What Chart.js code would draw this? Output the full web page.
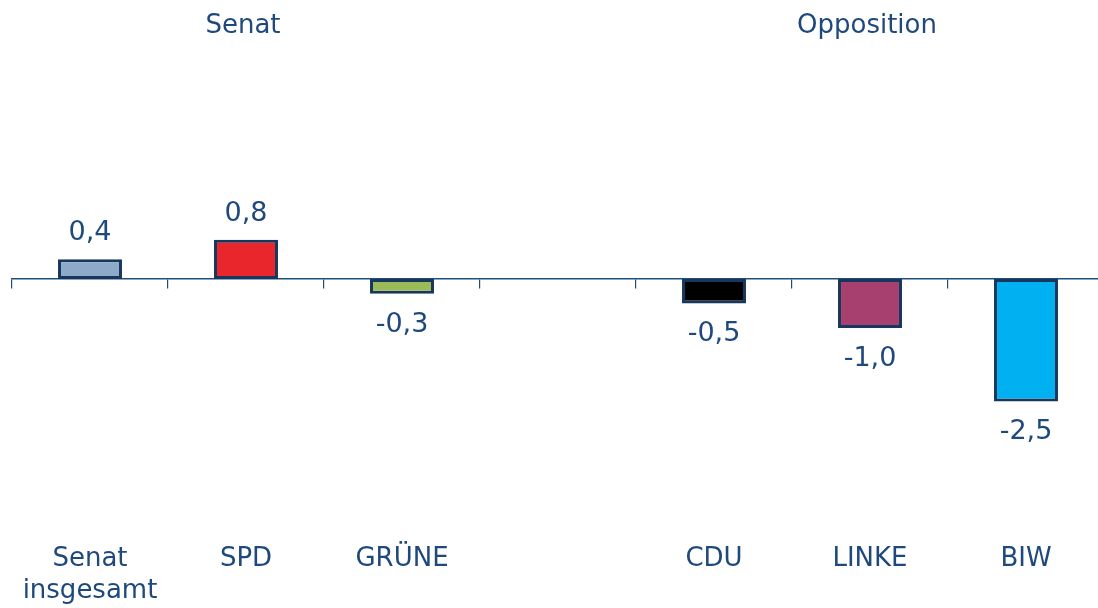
<!DOCTYPE html>
<html>
<head>
<meta charset="utf-8">
<script src="https://cdn.jsdelivr.net/npm/chart.js@4/dist/chart.umd.min.js"></script>
<style>
  html, body { margin: 0; padding: 0; background: #fff; overflow: hidden; }
  #wrap { position: relative; width: 1104px; height: 629px; }
</style>
</head>
<body>
<div id="wrap"><canvas id="voteChart"></canvas></div>
<script>
const categories = [["Senat", "insgesamt"], "SPD", "GRÜNE", "", "CDU", "LINKE", "BIW"];
const changes = [0.4, 0.8, -0.3, null, -0.5, -1.0, -2.5];
const barColors = ["#8eaac8", "#e8262b", "#9bbb59", "#ffffff", "#000000", "#a8406f", "#00b0f0"];
const groupTitles = ["Senat", "Opposition"];
const groupCenters = [1, 5]; // category index the group title sits over

const textColor = "#1f497d";
const axisColor = "#1f4e79";
const fontFamily = "'DejaVu Sans', Verdana, sans-serif";

// value labels above / below each bar
const valueLabels = {
  id: "valueLabels",
  afterDatasetsDraw(chart) {
    const ctx = chart.ctx;
    const meta = chart.getDatasetMeta(0);
    ctx.save();
    ctx.font = "27px " + fontFamily;
    ctx.fillStyle = textColor;
    ctx.textAlign = "center";
    ctx.textBaseline = "middle";
    meta.data.forEach((bar, i) => {
      const v = changes[i];
      if (v === null) return;
      const txt = v.toFixed(1).replace(".", ",");
      const y = v >= 0 ? bar.y - 26 : bar.y + 31;
      ctx.fillText(txt, bar.x, y);
    });
    ctx.restore();
  }
};

// "Senat" / "Opposition" headings
const groupHeadings = {
  id: "groupHeadings",
  afterDraw(chart) {
    const ctx = chart.ctx;
    const x = chart.scales.x;
    ctx.save();
    ctx.font = "26px " + fontFamily;
    ctx.fillStyle = textColor;
    ctx.textAlign = "center";
    ctx.textBaseline = "middle";
    groupTitles.forEach((t, i) => {
      ctx.fillText(t, x.getPixelForValue(groupCenters[i]) - 3, 26);
    });
    ctx.restore();
  }
};

const data = {
  labels: categories,
  datasets: [
    {
      label: "Veränderung",
      data: changes,
      backgroundColor: barColors,
      borderColor: "#17375e",
      borderWidth: 3,
      borderSkipped: false,
      categoryPercentage: 1,
      barPercentage: 0.41,
    },
  ],
};

const config = {
  type: "bar",
  data: data,
  options: {
    responsive: true,
    maintainAspectRatio: false,
    animation: false,
    layout: { padding: { top: 132, left: 12, right: 0, bottom: 2 } },
    scales: {
      y: {
        display: false,
        min: -4.82,
        max: 3,
      },
      x: {
        grid: { display: false },
        border: { display: false },
        ticks: {
          color: textColor,
          padding: 20,
          maxRotation: 0,
          autoSkip: false,
          font: { family: fontFamily, size: 26, lineHeight: 1.23 },
        },
      },
      x2: {
        type: "category",
        labels: categories,
        position: { y: 0 },
        offset: true,
        grid: {
          offset: true,
          drawOnChartArea: false,
          drawTicks: true,
          tickLength: 9,
          color: axisColor,
          lineWidth: 1.2,
        },
        border: { color: axisColor, width: 1.5 },
        ticks: { display: false },
      },
    },
    plugins: {
      legend: false,
      tooltip: { enabled: false },
    },
  },
  plugins: [valueLabels, groupHeadings],
};

const ctx = document.getElementById("voteChart").getContext("2d");
const voteChart = new Chart(ctx, config);
</script>
</body>
</html>
